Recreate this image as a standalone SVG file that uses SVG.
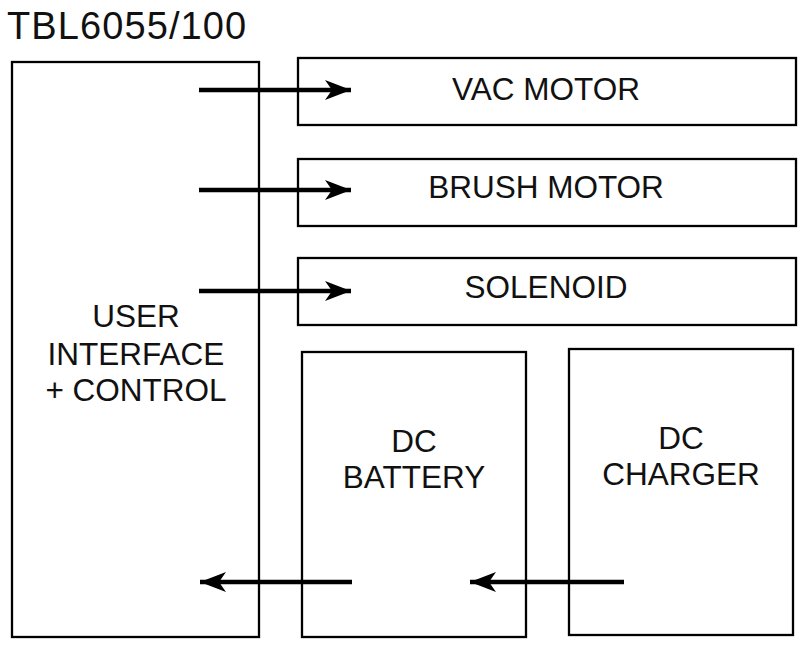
<svg xmlns="http://www.w3.org/2000/svg" width="801" height="645" viewBox="0 0 801 645">
<style>
.box{fill:#fff;stroke:#000;stroke-width:2.3}
.t{font-family:"Liberation Sans",Arial,sans-serif;font-size:31.5px;fill:#111;text-anchor:middle}
.c{stroke:#000;stroke-width:4.5;fill:none}
</style>
<defs>
<marker id="ah" markerUnits="userSpaceOnUse" markerWidth="28" markerHeight="22" refX="26" refY="11" orient="auto">
<path d="M0,1 L26,11 L0,21 L7,11 Z" fill="#000"/>
</marker>
</defs>
<rect width="801" height="645" fill="#fff"/>
<text x="7" y="39" style="font-family:'Liberation Sans',Arial,sans-serif;font-size:38px;letter-spacing:1.1px;fill:#111">TBL6055/100</text>
<g id="ui"><rect class="box" x="12" y="62" width="247" height="575"/>
<text class="t" x="136" y="327">USER</text><text class="t" x="136" y="365">INTERFACE</text><text class="t" x="136" y="401">+ CONTROL</text></g>
<g id="vac"><rect class="box" x="298" y="58" width="498" height="67"/><text class="t" x="546" y="100">VAC MOTOR</text></g>
<g id="brush"><rect class="box" x="298" y="159" width="498" height="67"/><text class="t" x="546" y="198">BRUSH MOTOR</text></g>
<g id="sol"><rect class="box" x="298" y="258" width="498" height="67"/><text class="t" x="546" y="298">SOLENOID</text></g>
<g id="bat"><rect class="box" x="302" y="352" width="224" height="285"/><text class="t" x="414" y="452">DC</text><text class="t" x="414" y="488">BATTERY</text></g>
<g id="chg"><rect class="box" x="569" y="349" width="224" height="286"/><text class="t" x="681" y="449">DC</text><text class="t" x="681" y="485">CHARGER</text></g>
<g id="connectors">
<line class="c" x1="199" y1="90" x2="351" y2="90" marker-end="url(#ah)"/>
<line class="c" x1="199" y1="190" x2="351" y2="190" marker-end="url(#ah)"/>
<line class="c" x1="199" y1="291" x2="351" y2="291" marker-end="url(#ah)"/>
<line class="c" x1="352" y1="582" x2="200" y2="582" marker-end="url(#ah)"/>
<line class="c" x1="624" y1="582" x2="470" y2="582" marker-end="url(#ah)"/>
</g>
</svg>
